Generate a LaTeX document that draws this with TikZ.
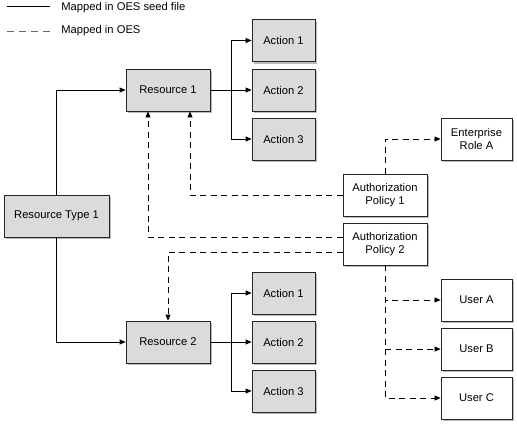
\documentclass[tikz,border=0pt]{standalone}
\usepackage{fontspec}
\setmainfont{Liberation Sans}
\usetikzlibrary{arrows.meta,shadows}
\begin{document}
\begin{tikzpicture}[x=1pt,y=-1pt,
  font=\fontsize{11.2}{13}\selectfont,
  line width=0.8pt,
  gbox/.style={draw=black!85, fill=black!14, minimum height=42pt, inner sep=0pt, align=center,
    drop shadow={shadow xshift=2pt, shadow yshift=-2pt, fill=black!45, opacity=0.6}},
  wbox/.style={draw=black!85, fill=white, minimum height=42pt, inner sep=0pt, align=center,
    drop shadow={shadow xshift=2pt, shadow yshift=-2pt, fill=black!45, opacity=0.6}},
  arr/.style={-{Triangle[length=6pt,width=5pt]}},
  darr/.style={-{Triangle[length=6pt,width=5pt]}, dash pattern=on 6pt off 4.5pt},
  lgd/.style={anchor=base west, inner sep=0pt}
]
\useasboundingbox (0,0) rectangle (517,424);

% legend
\coordinate (l1a) at (7,6.3); \coordinate (l1b) at (50,6.3);
\coordinate (l2a) at (7,31.5); \coordinate (l2b) at (50,31.5);
\draw (l1a) -- (l1b);
\draw[black!60, dash pattern=on 7pt off 5pt] (l2a) -- (l2b);
\node[lgd] (t1) at (61,10.2) {Mapped in OES seed file};
\node[lgd] (t2) at (61,33.2) {Mapped in OES};

% nodes
\node[gbox, minimum width=84pt] (r1) at (168,90) {Resource 1};
\node[gbox, minimum width=63pt] (a11) at (283.5,40.5) {Action 1};
\node[gbox, minimum width=63pt] (a12) at (283.5,90) {Action 2};
\node[gbox, minimum width=63pt] (a13) at (283.5,139) {Action 3};
\node[gbox, minimum width=105pt] (rt) at (56.5,216) {Resource Type 1};
\node[gbox, minimum width=84pt] (r2) at (168,342) {Resource 2};
\node[gbox, minimum width=63pt] (a21) at (283.5,293) {Action 1};
\node[gbox, minimum width=63pt] (a22) at (283.5,342) {Action 2};
\node[gbox, minimum width=63pt] (a23) at (283.5,391) {Action 3};
\node[wbox, minimum width=84pt] (ap1) at (385,195) {Authorization\\Policy 1};
\node[wbox, minimum width=84pt] (ap2) at (385,244) {Authorization\\Policy 2};
\node[wbox, minimum width=71pt] (era) at (476.5,139) {Enterprise\\Role A};
\node[wbox, minimum width=71pt] (ua) at (476.5,300) {User A};
\node[wbox, minimum width=71pt] (ub) at (476.5,349) {User B};
\node[wbox, minimum width=71pt] (uc) at (476.5,398) {User C};

% solid connectors
\draw[arr] (rt.north) |- (r1.west);
\draw[arr] (rt.south) |- (r2.west);
\coordinate (br1) at (231,90);
\coordinate (br2) at (231,342);
\draw[arr] (r1.east) -- (a12.west);
\draw[arr] (br1) |- (a11.west);
\draw[arr] (br1) |- (a13.west);
\draw[arr] (r2.east) -- (a22.west);
\draw[arr] (br2) |- (a21.west);
\draw[arr] (br2) |- (a23.west);

% dashed connectors
\draw[darr] (ap1.west) -| ([xshift=22pt]r1.south);
\draw[darr] ([yshift=7pt]ap2.west) -| ([xshift=-20pt]r1.south);
\draw[darr] ([yshift=-8pt]ap2.west) -| (r2.north);
\draw[darr] (ap1.north) |- (era.west);
\draw[darr] (ap2.south) |- (ua.west);
\draw[darr] (ap2.south) |- (ub.west);
\draw[darr] (ap2.south) |- (uc.west);
\end{tikzpicture}
\end{document}
